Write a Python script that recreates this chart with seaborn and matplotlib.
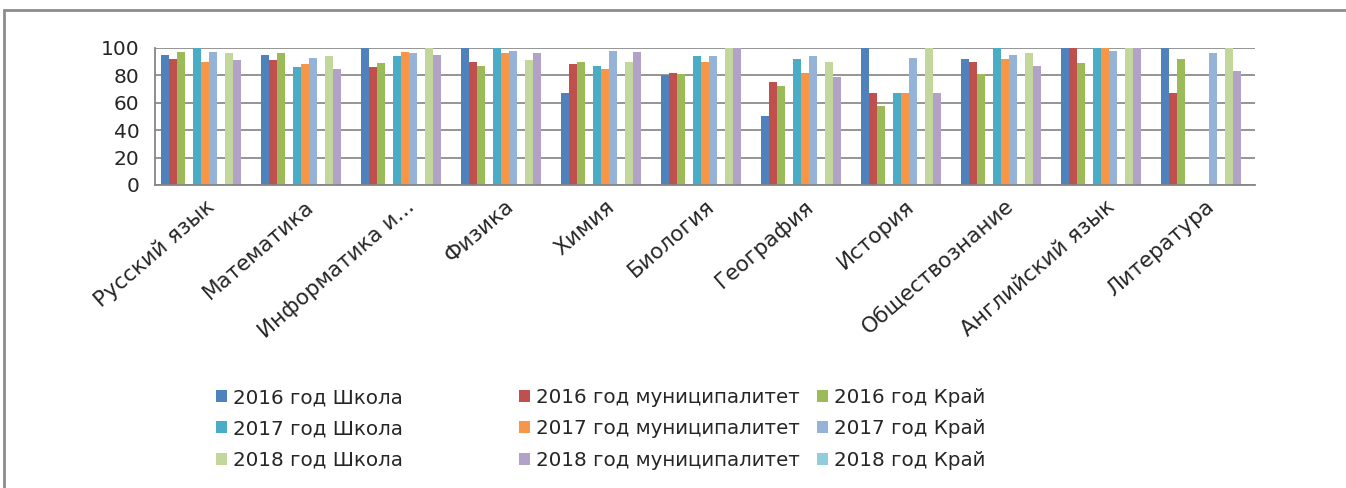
import numpy as np
import pandas as pd
import matplotlib
matplotlib.use("Agg")
import matplotlib.pyplot as plt
import seaborn as sns
from matplotlib.patches import Patch, Rectangle

# ---- data ----
subjects = ["Русский язык", "Математика", "Информатика и...", "Физика", "Химия",
            "Биология", "География", "История", "Обществознание",
            "Английский язык", "Литература"]

s2016_school = [95, 95, 100, 100, 67, 80, 50, 100, 92, 100, 100]
s2016_mun    = [92, 91, 86, 90, 88, 82, 75, 67, 90, 100, 67]
s2016_kray   = [97, 96, 89, 87, 90, 81, 72, 58, 81, 89, 92]
s2017_school = [100, 86, 94, 100, 87, 94, 92, 67, 100, 100, np.nan]
s2017_mun    = [90, 88, 97, 96, 85, 90, 82, 67, 92, 100, np.nan]
s2017_kray   = [97, 93, 96, 98, 98, 94, 94, 93, 95, 98, 96]
s2018_school = [96, 94, 100, 91, 90, 100, 90, 100, 96, 100, 100]
s2018_mun    = [91, 85, 95, 96, 97, 100, 79, 67, 87, 100, 83]
s2018_kray   = [np.nan] * 11

series_names = ["2016 год Школа", "2016 год муниципалитет", "2016 год Край",
                "2017 год Школа", "2017 год муниципалитет", "2017 год Край",
                "2018 год Школа", "2018 год муниципалитет", "2018 год Край"]
series_vals = [s2016_school, s2016_mun, s2016_kray,
               s2017_school, s2017_mun, s2017_kray,
               s2018_school, s2018_mun, s2018_kray]
colors = ["#4F81BD", "#C0504D", "#9BBB59",
          "#4BACC6", "#F79646", "#95B3D7",
          "#C3D69B", "#B3A2C7", "#93CDDD"]

# long table; the empty slots between year groups are kept as hue levels
rows = []
for name, vals in zip(series_names, series_vals):
    for subj, v in zip(subjects, vals):
        rows.append((subj, name, v))
df = pd.DataFrame(rows, columns=["subject", "series", "value"]).dropna()

hue_order = series_names[:3] + ["_gap1"] + series_names[3:6] + ["_gap2"] + series_names[6:]
palette = dict(zip(series_names, colors))
palette["_gap1"] = "white"
palette["_gap2"] = "white"

sns.set_style("white")
plt.rcParams["font.family"] = ["DejaVu Sans"]

fig = plt.figure(figsize=(13.46, 4.88), dpi=100)
ax = fig.add_axes([155 / 1346, 1 - 185 / 488, 1100 / 1346, 137 / 488])

sns.barplot(data=df, x="subject", y="value", hue="series", order=subjects,
            hue_order=hue_order, palette=palette, saturation=1, width=0.88,
            gap=0.12, legend=False, ax=ax, edgecolor="none")

ax.set_xlim(-0.5, len(subjects) - 0.5)
ax.set_ylim(0, 100)
ax.set_yticks(range(0, 101, 20))
ax.tick_params(axis="y", labelsize=14.5, length=5, color="#868686", pad=6)
ax.grid(True, axis="y", color="#8c8c8c", lw=1.3)
ax.set_axisbelow(True)
ax.set_xlabel("")
ax.set_ylabel("")

# category boundaries get the tick marks, labels sit at centres
ax.set_xticks(np.arange(len(subjects)))
ax.set_xticklabels(subjects, rotation=41, ha="right", rotation_mode="anchor",
                   fontsize=15.5)
ax.tick_params(axis="x", length=0, pad=8)
ax.set_xticks(np.arange(len(subjects) + 1) - 0.5, minor=True)
ax.tick_params(axis="x", which="minor", length=6, color="#868686")

for side in ["top", "right"]:
    ax.spines[side].set_visible(False)
for side in ["left", "bottom"]:
    ax.spines[side].set_color("#868686")
    ax.spines[side].set_linewidth(1.3)

# legend: three columns, rows read across like the reference
handles = [Patch(facecolor=c, edgecolor="none") for c in colors]
col_x = [216, 519, 817]
for i, x in enumerate(col_x):
    idx = [i, i + 3, i + 6]
    fig.legend([handles[j] for j in idx], [series_names[j] for j in idx],
               loc="upper left", bbox_to_anchor=(x / 1346, 1 - 388 / 488),
               frameon=False, fontsize=14.3, handlelength=0.55, handleheight=0.55,
               handletextpad=0.3, labelspacing=0.62, borderpad=0, borderaxespad=0)

# outer chart frame
fig.patches.append(Rectangle((4 / 1346, -0.02), 1.05, 1 - 10 / 488 + 0.02,
                             transform=fig.transFigure, fill=False,
                             edgecolor="#8c8c8c", lw=2))

fig.savefig("out.png", dpi=100)
